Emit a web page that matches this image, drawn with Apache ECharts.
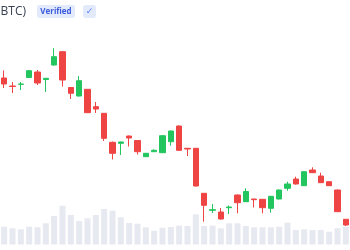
<!DOCTYPE html>
<html><head><meta charset="utf-8">
<script src="https://cdn.jsdelivr.net/npm/echarts@6/dist/echarts.min.js"></script>
<style>html,body{margin:0;padding:0;background:#fff}#c{width:350px;height:250px}</style>
</head><body><div id="c"></div>
<script>
const days = ['1','2','3','4','5','6','7','8','9','10','11','12','13','14','15','16','17','18','19','20','21','22','23','24','25','26','27','28','29','30','31','32','33','34','35','36','37','38','39','40','41','42'];
const opens = [57200,56400,56570,57250,57800,57050,58500,59830,56250,55400,56070,54330,53670,50770,50670,51400,50950,49330,49830,49730,50830,52400,50170,50170,45670,43970,43800,44230,45500,44830,45100,45070,44170,45100,46170,47100,46430,48000,47400,46830,46000,43070];
const closes = [56600,56350,56600,57930,56700,57170,59330,57000,55670,56930,53730,54100,51170,49670,50800,51200,49830,49670,49970,51430,51900,49970,50100,46400,44470,44030,43100,44300,44730,45850,45030,44230,45370,46000,46600,46600,47830,47730,46730,46430,43830,42500];
const lows = [56200,55700,56000,57200,56500,55800,58450,56350,55100,55350,53700,53700,50900,49050,49500,50350,49550,49300,49800,49700,50430,49900,49400,46350,42830,43700,43050,43600,43670,44800,44250,43670,43730,45050,45930,46550,46400,47700,46700,46400,43800,42400];
const highs = [57950,56800,56800,58000,58000,57200,60170,59900,56300,57400,56100,54800,53700,50850,50850,51450,51000,49700,50070,51450,51950,52450,50200,50200,45700,44600,44200,44450,45550,46170,45120,45100,45400,46050,46830,47330,47850,48270,47730,46850,46050,43100];
const volumes = [178,162,152,178,172,212,285,388,295,235,262,295,355,338,272,215,208,172,138,168,175,188,185,302,185,188,162,212,212,185,172,172,172,178,218,145,152,145,145,128,162,178];
const titleText = 'Bitcoin (BTC)';
const badgeText = 'Verified';
const checkText = '✓';

const ohlc = opens.map((o, i) => [o, closes[i], lows[i], highs[i]]);
const UP = '#22c55e', DOWN = '#ef4444';

const chart = echarts.init(document.getElementById('c'), null, {renderer: 'canvas'});
chart.setOption({
  animation: false,
  backgroundColor: '#ffffff',
  grid: [
    {left: 0, right: 0, top: 0, bottom: 0},
    {left: 0, right: 0, top: 144.5, bottom: 5.5}
  ],
  xAxis: [
    {type: 'category', gridIndex: 0, data: days, boundaryGap: true, show: false},
    {type: 'category', gridIndex: 1, data: days, boundaryGap: true, show: false}
  ],
  yAxis: [
    {type: 'value', gridIndex: 0, min: 40000, max: 65000, show: false, splitLine: {show: false}},
    {type: 'value', gridIndex: 1, min: 0, max: 1000, show: false, splitLine: {show: false}}
  ],
  series: [
    {
      type: 'bar', xAxisIndex: 1, yAxisIndex: 1, data: volumes, barWidth: 6,
      itemStyle: {color: '#e6e9f0'}, z: 1, silent: true
    },
    {
      type: 'candlestick', xAxisIndex: 0, yAxisIndex: 0, data: ohlc, barWidth: 6, z: 3,
      itemStyle: {color: UP, color0: DOWN, borderColor: UP, borderColor0: DOWN, borderWidth: 1}
    }
  ],
  graphic: [
    {type: 'text', x: 26, y: 12, style: {text: titleText, textAlign: 'right', textVerticalAlign: 'middle', font: '12px "Open Sans", sans-serif', fill: '#374151'}},
    {type: 'rect', x: 37, y: 5, shape: {width: 38, height: 13, r: 3}, style: {fill: '#e3eafc'}},
    {type: 'text', x: 56, y: 11.5, style: {text: badgeText, textAlign: 'center', textVerticalAlign: 'middle', font: 'bold 8px "Open Sans", sans-serif', fill: '#3b5bdb'}},
    {type: 'rect', x: 83, y: 5, shape: {width: 13, height: 13, r: 3}, style: {fill: '#e3eafc'}},
    {type: 'text', x: 89.5, y: 11.5, style: {text: checkText, textAlign: 'center', textVerticalAlign: 'middle', font: '9px "DejaVu Sans", sans-serif', fill: '#5c7cfa'}}
  ]
});
</script>
</body></html>
